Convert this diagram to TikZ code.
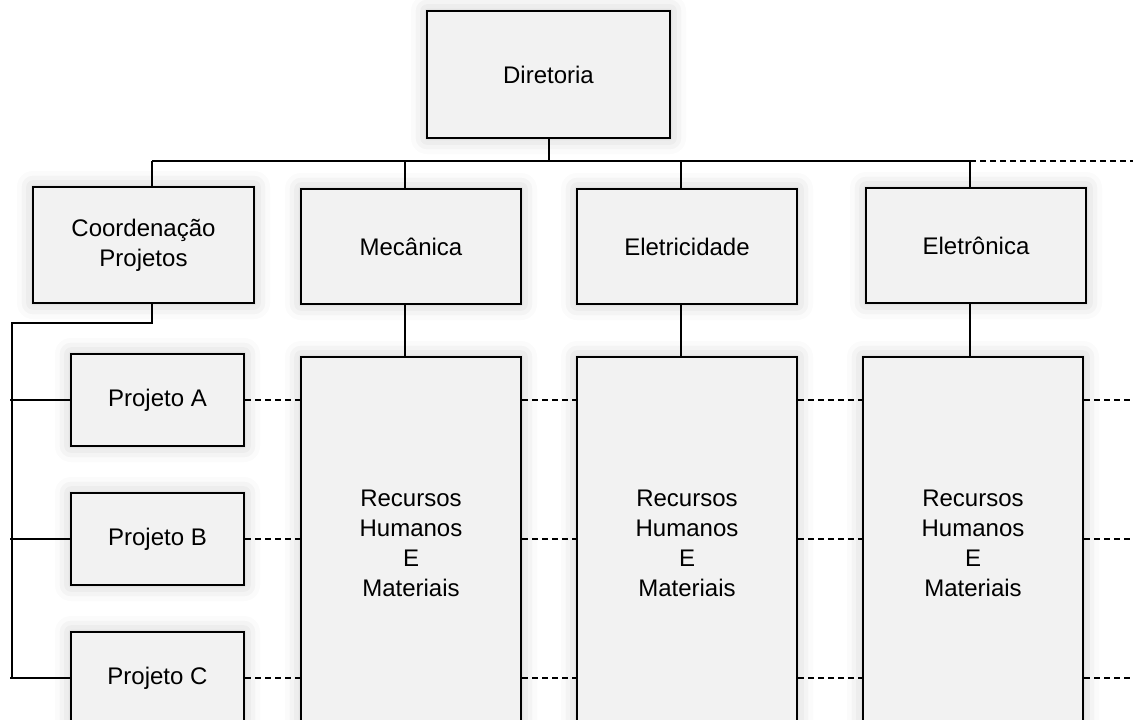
\documentclass[tikz,border=0pt]{standalone}
\usepackage{fontspec}
\setmainfont{Liberation Sans}
\usetikzlibrary{positioning,shadows.blur}

\begin{document}
\begin{tikzpicture}[
    x=1pt, y=-1pt,
    line width=2pt,
    box/.style={rectangle, draw, line width=2pt, fill=black!5, anchor=north west, inner sep=0pt,
        minimum width=220pt, minimum height=115pt, align=center, font=\fontsize{24}{30}\selectfont,
        blur shadow={shadow xshift=0pt, shadow yshift=0pt, shadow blur radius=16pt, shadow opacity=22}},
    projbox/.style={box, minimum width=173pt, minimum height=92pt},
    bigbox/.style={box, minimum height=372pt},
    dashline/.style={line width=2.2pt, dash pattern=on 6pt off 4pt}
]
    \useasboundingbox (0,0) rectangle (1133,720);

    % Top
    \node[box, minimum width=243pt, minimum height=127pt] (dir) at (426,10) {Diretoria};

    % Departments
    \node[box, minimum width=221pt, minimum height=116pt] (coord) at (32,186) {Coordenação\\Projetos};
    \node[box] (mec) at (300,188) {Mecânica};
    \node[box] (elet) at (576,188) {Eletricidade};
    \node[box] (eletr) at (865,187) {Eletrônica};

    % Resources
    \node[bigbox] (rhmec) at (300,356) {Recursos\\Humanos\\E\\Materiais};
    \node[bigbox] (rhelet) at (576,356) {Recursos\\Humanos\\E\\Materiais};
    \node[bigbox] (rheletr) at (862,356) {Recursos\\Humanos\\E\\Materiais};

    % Projects
    \node[projbox] (pa) at (70,353) {Projeto A};
    \node[projbox] (pb) at (70,492) {Projeto B};
    \node[projbox] (pc) at (70,631) {Projeto C};

    \coordinate (bus) at (0,161);
    \coordinate (rail) at (12,323);
    \coordinate (rim) at (1133,0);
    \coordinate (coordtap) at ([xshift=8.5pt]coord.north);
    \coordinate (mectap) at ([xshift=-6pt]mec.north);
    \coordinate (elettap) at ([xshift=-6pt]elet.north);
    \coordinate (eletrtap) at ([xshift=-6pt]eletr.north);

    % Connections
    \draw (dir.south) -- (dir.south |- bus);
    \draw (coordtap |- bus) -- (eletrtap |- bus);
    \draw[dashline] (eletrtap |- bus) -- (rim |- bus);
    \draw (coordtap |- bus) -- (coordtap);
    \draw (mectap |- bus) -- (mectap);
    \draw (elettap |- bus) -- (elettap);
    \draw (eletrtap |- bus) -- (eletrtap);
    \draw (mectap |- mec.south) -- (mectap |- rhmec.north);
    \draw (elettap |- elet.south) -- (elettap |- rhelet.north);
    \draw (eletrtap |- eletr.south) -- (eletrtap |- rheletr.north);
    \draw (coordtap |- coord.south) |- (rail) -- (rail |- pc.west) -- (pc.west);
    \draw ([xshift=-2pt]rail |- pa.west) -- (pa.west);
    \draw ([xshift=-2pt]rail |- pb.west) -- (pb.west);
    \draw ([xshift=-2pt]rail |- pc.west) -- (pc.west);

    % Dashed links
    \draw[dashline] (pa.east) -- (pa.east -| rhmec.west);
    \draw[dashline] (pb.east) -- (pb.east -| rhmec.west);
    \draw[dashline] (pc.east) -- (pc.east -| rhmec.west);
    \draw[dashline] (rhmec.east |- pa.east) -- (rhelet.west |- pa.east);
    \draw[dashline] (rhmec.east |- pb.east) -- (rhelet.west |- pb.east);
    \draw[dashline] (rhmec.east |- pc.east) -- (rhelet.west |- pc.east);
    \draw[dashline] (rhelet.east |- pa.east) -- (rheletr.west |- pa.east);
    \draw[dashline] (rhelet.east |- pb.east) -- (rheletr.west |- pb.east);
    \draw[dashline] (rhelet.east |- pc.east) -- (rheletr.west |- pc.east);
    \draw[dashline] (rheletr.east |- pa.east) -- (rim |- pa.east);
    \draw[dashline] (rheletr.east |- pb.east) -- (rim |- pb.east);
    \draw[dashline] (rheletr.east |- pc.east) -- (rim |- pc.east);
\end{tikzpicture}
\end{document}
